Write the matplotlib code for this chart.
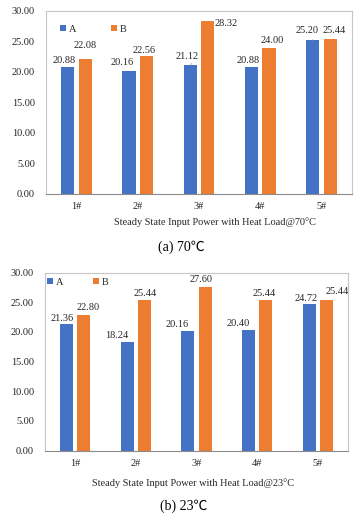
import matplotlib
matplotlib.use("Agg")
import matplotlib.pyplot as plt
import numpy as np

categories = ["1#", "2#", "3#", "4#", "5#"]
series_names = ["A", "B"]
a_70 = [20.88, 20.16, 21.12, 20.88, 25.20]
b_70 = [22.08, 22.56, 28.32, 24.00, 25.44]
a_23 = [21.36, 18.24, 20.16, 20.40, 24.72]
b_23 = [22.80, 25.44, 27.60, 25.44, 25.44]
yticks = [0, 5, 10, 15, 20, 25, 30]
xlabel_70 = "Steady State Input Power with Heat Load@70°C"
xlabel_23 = "Steady State Input Power with Heat Load@23°C"
caption_70 = "(a) 70℃"
caption_23 = "(b) 23℃"

# label offsets in pixels (dx, dy) relative to bar top centre
off_a_70 = [(-4, 6), (-7, 9), (-3, 9), (-3, 6), (-6, 10)]
off_b_70 = [(0, 14), (-2, 6), (18, -2), (3, 7), (4, 8)]
off_a_23 = [(-5, 5.5), (-10, 7), (-11, 6.6), (-10, 6), (-3, 5.5)]
off_b_23 = [(4, 8), (1, 6), (-4, 7), (-2, 6), (11, 8)]
# leader lines (only A of 3# and 5# in the 70 C chart)
lead_a_70 = [False, False, True, False, True]
no_lead = [False] * 5

BLUE = "#4472C4"
ORANGE = "#ED7D31"
TXT = "#262626"
FS = 7.4

plt.rcParams['font.family'] = ['Liberation Serif', 'Noto Sans CJK SC', 'DejaVu Sans']

W, H = 355, 518
fig = plt.figure(figsize=(W / 100, H / 100), dpi=100)


def px_ax(l, t, r, b):
    return fig.add_axes([l / W, 1 - b / H, (r - l) / W, (b - t) / H])


def draw(ax, avals, bvals, offa, offb, leada, legend_anchor, colsp):
    x = np.arange(len(categories))
    w = 0.215
    d = 0.143
    ba = ax.bar(x - d, avals, w, color=BLUE, label=series_names[0])
    bb = ax.bar(x + d, bvals, w, color=ORANGE, label=series_names[1])
    ax.set_xlim(-0.5, len(categories) - 0.5)
    ax.set_ylim(0, 30)
    ax.set_yticks(yticks)
    ax.set_yticklabels([f"{v:.2f}" for v in yticks], fontsize=FS, color=TXT)
    ax.set_xticks(x)
    ax.set_xticklabels(categories, fontsize=FS, color=TXT)
    ax.tick_params(axis='both', length=0)
    ax.tick_params(axis='y', pad=8)
    ax.tick_params(axis='x', pad=6)
    for s in ['left', 'top', 'right']:
        ax.spines[s].set_color('#C6C6C6')
        ax.spines[s].set_linewidth(0.8)
    ax.spines['bottom'].set_color('#8C8C8C')
    ax.spines['bottom'].set_linewidth(0.8)
    for xs, vals, offs, leads in ((x - d, avals, offa, leada), (x + d, bvals, offb, no_lead)):
        for xi, v, (dx, dy), ld in zip(xs, vals, offs, leads):
            ap = None
            if ld:
                ap = dict(arrowstyle='-', color='#A6A6A6', lw=0.6,
                          shrinkA=1.5, shrinkB=0,
                          relpos=(0.75, 0.0))
            ax.annotate(f"{v:.2f}", xy=(xi, v), xytext=(dx, dy),
                        textcoords='offset pixels', ha='center', va='center',
                        fontsize=FS, color=TXT, arrowprops=ap)
    ax.legend(handles=[ba, bb], loc='upper left', bbox_to_anchor=legend_anchor,
              bbox_transform=fig.transFigure, ncol=2, frameon=False,
              fontsize=FS, handlelength=0.55, handleheight=0.55,
              handletextpad=0.3, columnspacing=colsp, borderpad=0,
              borderaxespad=0, labelcolor=TXT)


ax1 = px_ax(46, 11, 352, 194)
draw(ax1, a_70, b_70, off_a_70, off_b_70, lead_a_70, (60 / W, 1 - 25 / H), 3.4)
ax2 = px_ax(45, 272.5, 348, 450.7)
draw(ax2, a_23, b_23, off_a_23, off_b_23, no_lead, (47.5 / W, 1 - 278 / H), 2.9)

fig.text(215 / W, 1 - 222 / H, xlabel_70, ha='center', va='center', fontsize=FS, color=TXT)
fig.text(193 / W, 1 - 482.7 / H, xlabel_23, ha='center', va='center', fontsize=FS, color=TXT)
fig.text(181 / W, 1 - 247 / H, caption_70, ha='center', va='center', fontsize=10, color='black')
fig.text(184 / W, 1 - 506.7 / H, caption_23, ha='center', va='center', fontsize=10, color='black')

fig.savefig("out.png", dpi=100)
